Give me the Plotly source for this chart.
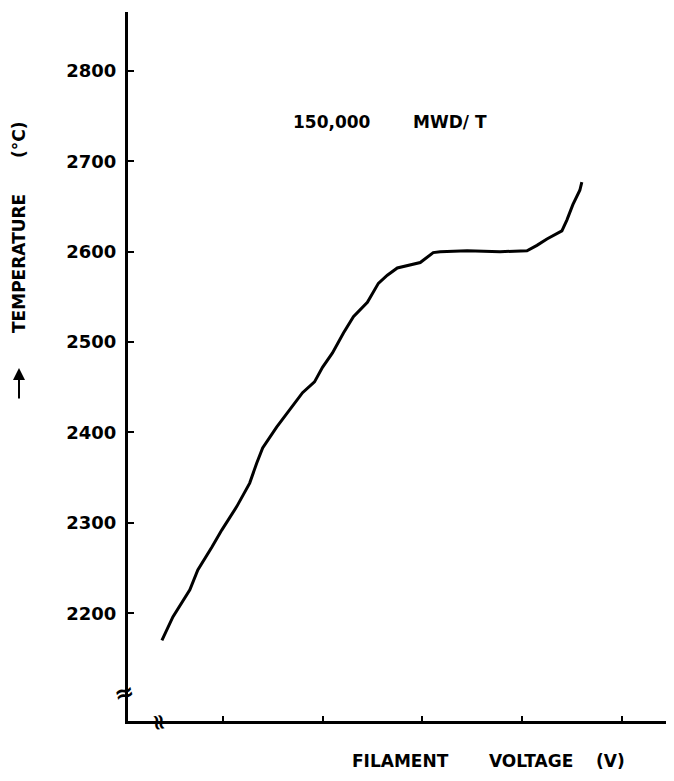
import plotly.graph_objects as go

# Data
voltage = [0.39, 0.50, 0.67, 0.75, 0.89, 0.99, 1.14, 1.27, 1.34, 1.40, 1.54, 1.67,
           1.80, 1.92, 2.00, 2.10, 2.21, 2.31, 2.45, 2.56, 2.65, 2.75, 2.88, 2.98,
           3.11, 3.18, 3.45, 3.78, 4.05, 4.15, 4.25, 4.40, 4.45, 4.51, 4.58, 4.60]
temperature = [2170, 2196, 2226, 2248, 2273, 2292, 2318, 2344, 2366, 2383, 2406, 2425,
               2444, 2456, 2472, 2488, 2510, 2528, 2544, 2565, 2574, 2582, 2585, 2588,
               2599, 2600, 2601, 2600, 2601, 2607, 2614, 2623, 2635, 2652, 2668, 2677]
y_ticks = [2200, 2300, 2400, 2500, 2600, 2700, 2800]
x_ticks = [1, 2, 3, 4, 5]

OFF = 8  # page body margin
W, H = 674 - OFF, 781 - 2 * OFF
L, R, T = 128 - OFF, 0, 12 - OFF
ph = 709
B = H - T - ph
pw = W - L - R

def px(x):
    return (x - OFF - L) / pw

def py(y):
    return (H - B - (y - OFF)) / ph

FONT = dict(family="DejaVu Sans", size=17, color="black", weight="bold")

fig = go.Figure()
fig.add_trace(go.Scatter(x=voltage, y=temperature, mode="lines",
                         line=dict(color="black", width=3), showlegend=False,
                         hoverinfo="skip"))

fig.update_layout(
    width=W, height=H,
    margin=dict(l=L, r=R, t=T, b=B, pad=0),
    paper_bgcolor="white", plot_bgcolor="white",
    xaxis=dict(range=[0.05, 5.524], tickvals=x_ticks, showticklabels=False,
               ticks="inside", ticklen=5, tickwidth=2, tickcolor="black",
               showline=True, linecolor="black", linewidth=3,
               showgrid=False, zeroline=False),
    yaxis=dict(range=[2080.8, 2865.2], tickvals=y_ticks,
               ticktext=[str(v) for v in y_ticks],
               ticks="inside", ticklen=6, tickwidth=2, tickcolor="black",
               ticklabelstandoff=5, tickfont=dict(family="DejaVu Sans", size=18,
                                                  color="black", weight="bold"),
               showline=True, linecolor="black", linewidth=3,
               showgrid=False, zeroline=False),
)

ann = []
# header
ann.append(dict(text="150,000", x=px(332), y=py(122)))
ann.append(dict(text="MWD/ T", x=px(450), y=py(122)))
# x title
ann.append(dict(text="FILAMENT", x=px(400), y=py(761)))
ann.append(dict(text="VOLTAGE", x=px(531), y=py(761)))
ann.append(dict(text="(V)", x=px(610), y=py(761)))
# y title
ann.append(dict(text="TEMPERATURE", x=px(19), y=py(264), textangle=-90))
ann.append(dict(text="(°C)", x=px(19), y=py(140), textangle=-90))
for a in ann:
    a.update(xref="paper", yref="paper", showarrow=False, xanchor="center",
             yanchor="middle", font=FONT)
    fig.add_annotation(**a)

# arrow next to y title
fig.add_annotation(xref="paper", yref="paper", x=px(19), y=py(368), ax=0, ay=32,
                   text="", showarrow=True, arrowhead=2, arrowsize=1.2,
                   arrowwidth=2, arrowcolor="black")

# axis break marks
fig.add_annotation(xref="paper", yref="paper", x=px(124), y=py(693), text="≈",
                   showarrow=False, font=dict(family="DejaVu Sans", size=24,
                                              color="black", weight="bold"),
                   xanchor="center", yanchor="middle", textangle=-15)
fig.add_annotation(xref="paper", yref="paper", x=px(160), y=py(722), text="≈",
                   showarrow=False, font=dict(family="DejaVu Sans", size=22,
                                              color="black", weight="bold"),
                   xanchor="center", yanchor="middle", textangle=80)

fig.write_html("out.html")
